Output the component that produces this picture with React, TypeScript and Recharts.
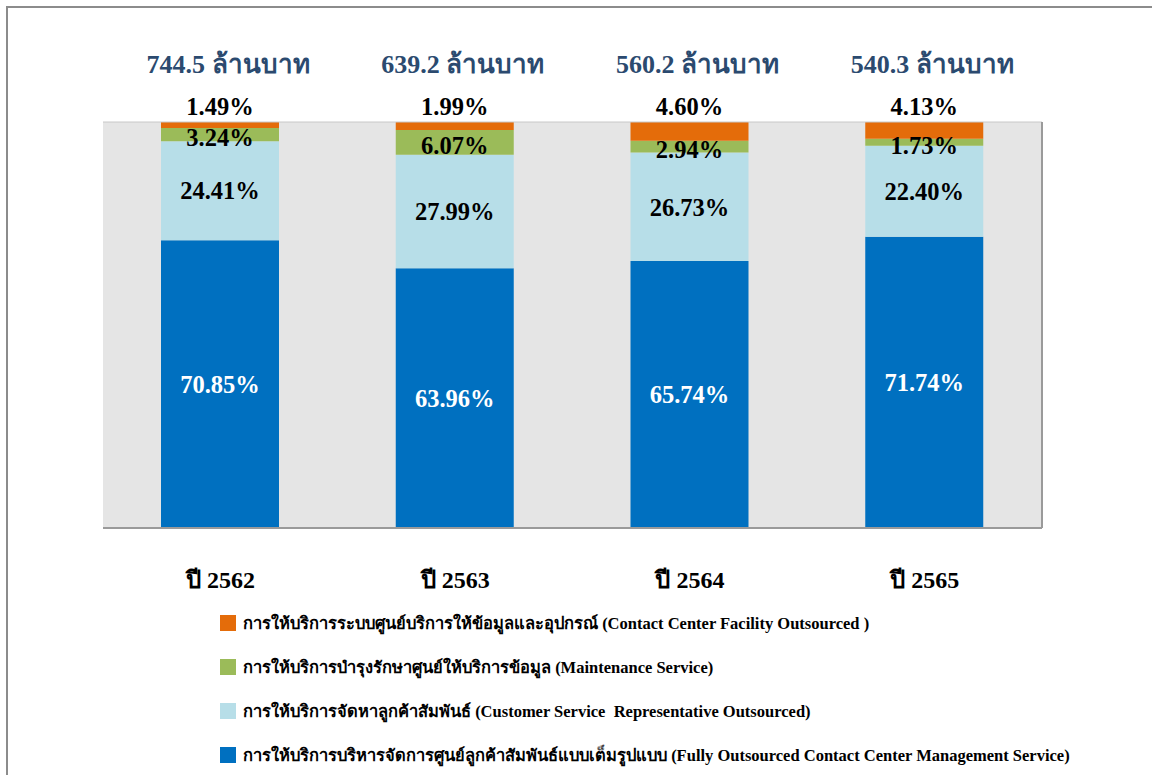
import { BarChart, Bar, XAxis, YAxis, CartesianGrid, LabelList, ReferenceLine } from 'recharts';

const years = ['ปี 2562', 'ปี 2563', 'ปี 2564', 'ปี 2565'];
const totals = ['744.5', '639.2', '560.2', '540.3'];
const fullService = [70.85, 63.96, 65.74, 71.74];
const csr = [24.41, 27.99, 26.73, 22.4];
const maintenance = [3.24, 6.07, 2.94, 1.73];
const facility = [1.49, 1.99, 4.6, 4.13];

const series = [
  { key: 'facility', color: '#E46C0A', name: 'การให้บริการระบบศูนย์บริการให้ข้อมูลและอุปกรณ์ (Contact Center Facility Outsourced )' },
  { key: 'maintenance', color: '#9BBB59', name: 'การให้บริการบำรุงรักษาศูนย์ให้บริการข้อมูล (Maintenance Service)' },
  { key: 'csr', color: '#B7DEE8', name: 'การให้บริการจัดหาลูกค้าสัมพันธ์ (Customer Service  Representative Outsourced)' },
  { key: 'full', color: '#0070C0', name: 'การให้บริการบริหารจัดการศูนย์ลูกค้าสัมพันธ์แบบเต็มรูปแบบ (Fully Outsourced Contact Center Management Service)' },
];

const data = years.map((y, i) => ({
  year: y,
  full: fullService[i],
  csr: csr[i],
  maintenance: maintenance[i],
  facility: facility[i],
}));

const FONT = "'Liberation Serif', 'Times New Roman', serif";
const pct = (v: any) => `${Number(v).toFixed(2)}%`;

const labelStyle = { fontFamily: FONT, fontSize: 24.5, fontWeight: 700 };

function TopLabel(props: any) {
  const { x, y, width, value, index } = props;
  const cx = x + width / 2;
  return (
    <g>
      <text x={cx} y={y - 7} textAnchor="middle" fill="#000" style={labelStyle}>{pct(value)}</text>
      <text x={cx + 8} y={y - 49} textAnchor="middle" fill="#2B4A6F" style={{ fontFamily: FONT, fontSize: 26, fontWeight: 700 }}>
        {`${totals[index]} ล้านบาท`}
      </text>
    </g>
  );
}

function YearTick(props: any) {
  const { x, y, payload } = props;
  return (
    <text x={x} y={y + 52} textAnchor="middle" fill="#000" style={{ fontFamily: FONT, fontSize: 24, fontWeight: 700 }}>
      {payload.value}
    </text>
  );
}

export default function App() {
  return (
    <div style={{ position: 'absolute', left: 0, top: 0, width: 1152, height: 775, overflow: 'hidden', background: '#fff', fontFamily: FONT }}>
      <div style={{ position: 'absolute', left: 6, top: 6, width: 1300, height: 900, border: '2px solid #8C8C8C' }} />
      <BarChart width={1152} height={775} data={data} margin={{ top: 122, right: 108, bottom: 217, left: 103 }} barSize={118}>
        <CartesianGrid fill="#E5E5E5" horizontal={false} vertical={false} />
        <ReferenceLine y={100} stroke="#C8C8C8" strokeWidth={1} />
        <XAxis dataKey="year" height={30} tickLine={false} axisLine={{ stroke: '#9A9A9A', strokeWidth: 2 }} tick={<YearTick />} interval={0} />
        <YAxis orientation="right" width={2} domain={[0, 100]} allowDataOverflow tick={false} tickLine={false} axisLine={{ stroke: '#9A9A9A', strokeWidth: 2 }} />
        <Bar dataKey="full" stackId="a" fill="#0070C0" isAnimationActive={false}>
          <LabelList dataKey="full" position="center" formatter={pct} fill="#fff" style={labelStyle} />
        </Bar>
        <Bar dataKey="csr" stackId="a" fill="#B7DEE8" isAnimationActive={false}>
          <LabelList dataKey="csr" position="center" formatter={pct} fill="#000" style={labelStyle} />
        </Bar>
        <Bar dataKey="maintenance" stackId="a" fill="#9BBB59" isAnimationActive={false}>
          <LabelList dataKey="maintenance" position="center" dy={3} formatter={pct} fill="#000" style={labelStyle} />
        </Bar>
        <Bar dataKey="facility" stackId="a" fill="#E46C0A" isAnimationActive={false}>
          <LabelList dataKey="facility" content={<TopLabel />} />
        </Bar>
      </BarChart>
      <div style={{ position: 'absolute', left: 220, top: 601 }}>
        {series.map((s) => (
          <div key={s.key} style={{ display: 'flex', alignItems: 'center', height: 44 }}>
            <span style={{ display: 'inline-block', width: 16, height: 16, background: s.color, marginRight: 7 }} />
            <span style={{ fontSize: 16.5, fontWeight: 700, color: '#000', whiteSpace: 'pre' }}>{s.name}</span>
          </div>
        ))}
      </div>
    </div>
  );
}
